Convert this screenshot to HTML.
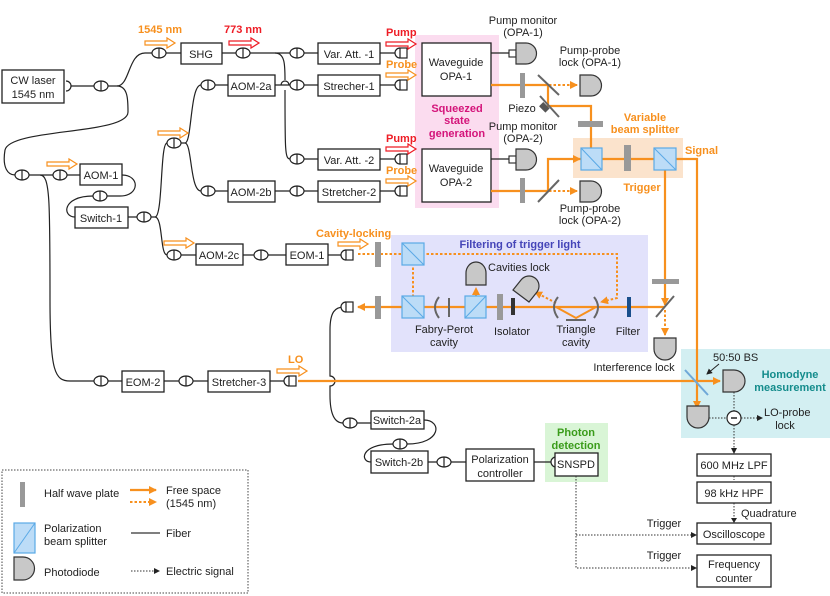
<!DOCTYPE html>
<html><head><meta charset="utf-8"><style>
html,body{margin:0;padding:0;background:#fff}
svg{display:block;font-family:"Liberation Sans",sans-serif}
text{font-size:11px;fill:#222}
.c{text-anchor:middle}
.box{fill:#fff;stroke:#222;stroke-width:1.3}
.fb{fill:none;stroke:#222;stroke-width:1.2}
.or{fill:none;stroke:#f7901e;stroke-width:2.2}
.od{fill:none;stroke:#f7901e;stroke-width:2;stroke-dasharray:2.5 2}
.el{fill:none;stroke:#333;stroke-width:1;stroke-dasharray:1.5 1.5}
.pd{fill:#c8c8c8;stroke:#333;stroke-width:1.2}
.pbs{fill:#bcdcf7;stroke:#5aa9e6;stroke-width:1.2}
.hwp{fill:#999}
.ot{fill:#f7901e;font-weight:bold}
.rt{fill:#ee1c25;font-weight:bold}
</style></head><body>
<svg width="830" height="596" viewBox="0 0 830 596">
<defs>
<g id="fc"><ellipse cx="0" cy="0" rx="7" ry="5" fill="#fff" stroke="#222" stroke-width="1.2"/><line x1="0" y1="-5" x2="0" y2="5" stroke="#222" stroke-width="1.2"/></g>
<g id="col"><path d="M4,-5 A5,5 0 0 0 4,5" fill="#fff" stroke="#222" stroke-width="1.2"/><rect x="4" y="-5" width="7" height="10" fill="#fff" stroke="#222" stroke-width="1.2"/></g>
<polygon id="ha" points="0,-2 22,-2 22,-5 30,0 22,5 22,2 0,2" fill="#fff" stroke="#f7901e" stroke-width="1.2"/>
<polygon id="hr" points="0,-2 22,-2 22,-5 30,0 22,5 22,2 0,2" fill="#fff" stroke="#ee1c25" stroke-width="1.2"/>
<marker id="ao" markerWidth="8" markerHeight="8" refX="7" refY="4" orient="auto" markerUnits="userSpaceOnUse"><path d="M0,0 L8,4 L0,8 z" fill="#f7901e"/></marker>
<marker id="ak" markerWidth="6" markerHeight="6" refX="5" refY="3" orient="auto" markerUnits="userSpaceOnUse"><path d="M0,0 L6,3 L0,6 z" fill="#222"/></marker>
</defs>

<!-- background regions -->
<rect x="415" y="35" width="84" height="173" fill="#fbdcef"/>
<rect x="573" y="138" width="110" height="40" fill="#fbe3cc"/>
<rect x="391" y="235" width="257" height="117" fill="#e2e2fb"/>
<rect x="681" y="349" width="149" height="89" fill="#d3eff2"/>
<rect x="545" y="423" width="63" height="59" fill="#d9f5d6"/>

<!-- fibers -->
<path class="fb" d="M66,86 H94 M108,86 H117 M117,86 C130,86 128,53 145,53 H152 M166,53 H181 M222,53 H236 M250,53 H290 M304,53 H318 M380,53 H398"/>
<path class="fb" d="M117,86 C128,86 128,100 128,112 C128,135 10,128 5,150 C2,168 8,175 15,175 M29,175 H53 M67,175 H80"/>
<path class="fb" d="M40,175 C50,175 50,200 50,300 C50,372 55,381 70,381 H94 M108,381 H122 M164,381 H179 M193,381 H208 M270,381 H288"/>
<path class="fb" d="M122,175 C140,175 140,196 120,196 H107 M93,196 C62,196 62,217 75,217 M128,217 H137 M151,217 H155 M155,217 C163,217 160,143 167,143 M155,217 C163,217 160,255 167,255 M181,255 H196"/>
<path class="fb" d="M181,143 H185 M185,143 C192,143 190,85 201,85 M215,85 H228 M185,143 C192,143 190,191 201,191 M215,191 H228"/>
<path class="fb" d="M275,85 H290 M304,85 H318 M275,191 H290 M304,191 H318 M304,159 H318 M380,85 H398 M380,159 H398 M380,191 H398"/>
<path class="fb" d="M275,53 C285,53 285,65 285,80 M285,90 C285,150 285,159 290,159 M281,85 A4,4 0 0 1 289,85"/>
<path class="fb" d="M243,255 H254 M268,255 H286 M328,255 H344"/>
<path class="fb" d="M344,307 C335,307 330,312 330,330 V376 A4,4 0 0 1 330,386 V395 C330,415 335,423 343,423 M357,423 H371"/>
<path class="fb" d="M424,420 C442,420 442,444 407,444 M393,444 C360,444 360,462 371,462 M428,462 H437 M451,462 H466 M534,462 H552"/>
<path class="fb" d="M491,53 H509"/>
<path class="fb" d="M491,159 H509"/>

<!-- connectors -->
<use href="#fc" x="101" y="86"/><use href="#fc" x="159" y="53"/><use href="#fc" x="243" y="53"/>
<use href="#fc" x="297" y="53"/><use href="#fc" x="297" y="85"/><use href="#fc" x="297" y="159"/><use href="#fc" x="297" y="191"/>
<use href="#fc" x="208" y="85"/><use href="#fc" x="208" y="191"/><use href="#fc" x="174" y="143"/>
<use href="#fc" x="22" y="175"/><use href="#fc" x="60" y="175"/><use href="#fc" x="100" y="196"/><use href="#fc" x="144" y="217"/>
<use href="#fc" x="174" y="255"/><use href="#fc" x="261" y="255"/>
<use href="#fc" x="101" y="381"/><use href="#fc" x="186" y="381"/>
<use href="#fc" x="350" y="423"/><use href="#fc" x="400" y="444"/><use href="#fc" x="444" y="462"/>
<use href="#col" x="396" y="53"/><use href="#col" x="396" y="85"/><use href="#col" x="396" y="159"/><use href="#col" x="396" y="191"/>
<use href="#col" x="342" y="255"/><use href="#col" x="342" y="307"/><use href="#col" x="285" y="381"/>
<path d="M556,457 A5,5 0 0 0 556,467" fill="#fff" stroke="#222" stroke-width="1.2"/>
<path d="M66,81 A5,5 0 0 1 66,91" fill="#fff" stroke="#222" stroke-width="1.2"/>
<rect x="509" y="50" width="7" height="7" fill="#fff" stroke="#222" stroke-width="1.1"/>
<rect x="509" y="156" width="7" height="7" fill="#fff" stroke="#222" stroke-width="1.1"/>

<!-- boxes -->
<rect class="box" x="2" y="70" width="62" height="33"/><text class="c" x="33" y="84">CW laser</text><text class="c" x="33" y="98">1545 nm</text>
<rect class="box" x="181" y="43" width="41" height="21"/><text class="c" x="201" y="58">SHG</text>
<rect class="box" x="318" y="43" width="62" height="21"/><text class="c" x="349" y="58">Var. Att. -1</text>
<rect class="box" x="318" y="75" width="62" height="21"/><text class="c" x="349" y="90">Strecher-1</text>
<rect class="box" x="228" y="75" width="47" height="21"/><text class="c" x="251" y="90">AOM-2a</text>
<rect class="box" x="318" y="149" width="62" height="21"/><text class="c" x="349" y="164">Var. Att. -2</text>
<rect class="box" x="318" y="181" width="62" height="21"/><text class="c" x="349" y="196">Stretcher-2</text>
<rect class="box" x="228" y="181" width="47" height="21"/><text class="c" x="251" y="196">AOM-2b</text>
<rect class="box" x="80" y="164" width="42" height="21"/><text class="c" x="101" y="179">AOM-1</text>
<rect class="box" x="75" y="207" width="53" height="21"/><text class="c" x="101" y="222">Switch-1</text>
<rect class="box" x="196" y="244" width="47" height="21"/><text class="c" x="219" y="259">AOM-2c</text>
<rect class="box" x="286" y="244" width="42" height="21"/><text class="c" x="307" y="259">EOM-1</text>
<rect class="box" x="422" y="43" width="69" height="53"/><text class="c" x="456" y="66">Waveguide</text><text class="c" x="456" y="80">OPA-1</text>
<rect class="box" x="422" y="149" width="69" height="53"/><text class="c" x="456" y="172">Waveguide</text><text class="c" x="456" y="186">OPA-2</text>
<rect class="box" x="122" y="371" width="42" height="21"/><text class="c" x="143" y="386">EOM-2</text>
<rect class="box" x="208" y="371" width="62" height="21"/><text class="c" x="239" y="386">Stretcher-3</text>
<rect class="box" x="371" y="411" width="53" height="18"/><text class="c" x="397" y="424">Switch-2a</text>
<rect class="box" x="371" y="451" width="57" height="22"/><text class="c" x="399" y="466">Switch-2b</text>
<rect class="box" x="466" y="449" width="68" height="32"/><text class="c" x="500" y="463">Polarization</text><text class="c" x="500" y="477">controller</text>
<rect class="box" x="555" y="453" width="43" height="23"/><text class="c" x="576" y="468">SNSPD</text>
<rect class="box" x="697" y="454" width="74" height="22"/><text class="c" x="734" y="469">600 MHz LPF</text>
<rect class="box" x="697" y="482" width="74" height="21"/><text class="c" x="734" y="497">98 kHz HPF</text>
<rect class="box" x="697" y="523" width="74" height="21"/><text class="c" x="734" y="538">Oscilloscope</text>
<rect class="box" x="697" y="555" width="74" height="32"/><text class="c" x="734" y="568">Frequency</text><text class="c" x="734" y="582">counter</text>

<!-- orange/red labels and arrows -->
<text class="ot" x="138" y="33">1545 nm</text><use href="#ha" x="145" y="43"/>
<text class="rt" x="224" y="33">773 nm</text><use href="#hr" x="229" y="43"/>
<text class="rt" x="386" y="36">Pump</text><use href="#hr" x="386" y="44"/>
<text class="ot" x="386" y="68">Probe</text><use href="#ha" x="386" y="75"/>
<text class="rt" x="386" y="142">Pump</text><use href="#hr" x="386" y="149"/>
<text class="ot" x="386" y="174">Probe</text><use href="#ha" x="386" y="181"/>
<use href="#ha" x="47" y="164"/><use href="#ha" x="158" y="133"/><use href="#ha" x="164" y="243"/>
<text class="ot" x="316" y="237">Cavity-locking</text><use href="#ha" x="338" y="244"/>
<text class="ot" x="288" y="363">LO</text><use href="#ha" x="277" y="371"/>

<text class="c" x="457" y="112" style="fill:#d4147a;font-weight:bold">Squeezed</text>
<text class="c" x="457" y="124" style="fill:#d4147a;font-weight:bold">state</text>
<text class="c" x="457" y="137" style="fill:#d4147a;font-weight:bold">generation</text>
<text class="c" x="645" y="121" style="fill:#f7901e;font-weight:bold">Variable</text>
<text class="c" x="645" y="133" style="fill:#f7901e;font-weight:bold">beam splitter</text>
<text x="685" y="154" class="ot">Signal</text>
<text class="c ot" x="642" y="191">Trigger</text>
<text class="c" x="520" y="248" style="fill:#4545b8;font-weight:bold">Filtering of trigger light</text>
<text class="c" x="790" y="378" style="fill:#148c8c;font-weight:bold">Homodyne</text>
<text class="c" x="790" y="391" style="fill:#148c8c;font-weight:bold">measurement</text>
<text class="c" x="576" y="436" style="fill:#3a9c1a;font-weight:bold">Photon</text>
<text class="c" x="576" y="449" style="fill:#3a9c1a;font-weight:bold">detection</text>

<!-- free-space optics top -->
<path class="or" d="M491,85 H548 V106 H591 V157" marker-end="url(#ao)"/>
<path class="or" d="M491,191 H548 V159 H580" marker-end="url(#ao)"/>
<path class="or" d="M580,159 H697 V408" marker-end="url(#ao)"/>
<path class="or" d="M665,159 V305" marker-end="url(#ao)"/>
<path class="od" d="M549,85 H577" marker-end="url(#ao)"/>
<path class="od" d="M549,191 H577" marker-end="url(#ao)"/>
<rect class="hwp" x="520" y="73" width="5" height="25"/>
<rect class="hwp" x="520" y="178" width="5" height="25"/>
<rect class="hwp" x="578" y="121" width="25" height="6"/>
<rect class="hwp" x="624" y="145" width="7" height="26"/>
<rect class="hwp" x="652" y="279" width="27" height="5"/>
<line x1="538" y1="75" x2="559" y2="95" stroke="#666" stroke-width="2"/>
<line x1="540" y1="96" x2="559" y2="117" stroke="#666" stroke-width="2"/>
<rect x="541" y="103" width="6" height="9" fill="#555" transform="rotate(-45 544 107)"/>
<line x1="538" y1="202" x2="559" y2="180" stroke="#666" stroke-width="2"/>
<rect class="pbs" x="581" y="148" width="21" height="22"/><line x1="581" y1="148" x2="602" y2="170" stroke="#5aa9e6"/>
<rect class="pbs" x="654" y="148" width="22" height="22"/><line x1="654" y1="148" x2="676" y2="170" stroke="#5aa9e6"/>
<text x="522" y="112" class="c">Piezo</text>
<text class="c" x="523" y="24">Pump monitor</text><text class="c" x="523" y="36">(OPA-1)</text>
<text class="c" x="590" y="54">Pump-probe</text><text class="c" x="590" y="66">lock (OPA-1)</text>
<text class="c" x="523" y="130">Pump monitor</text><text class="c" x="523" y="142">(OPA-2)</text>
<text class="c" x="590" y="212">Pump-probe</text><text class="c" x="590" y="224">lock (OPA-2)</text>
<path class="pd" d="M516,43 H526 A10.5,10.5 0 0 1 526,64 H516 Z"/>
<path class="pd" d="M516,149 H526 A10.5,10.5 0 0 1 526,170 H516 Z"/>
<path class="pd" d="M580,75 H591 A10.5,10.5 0 0 1 591,96 H580 Z"/>
<path class="pd" d="M580,181 H591 A10.5,10.5 0 0 1 591,202 H580 Z"/>

<!-- filtering -->
<path class="or" d="M665,307 H358" marker-end="url(#ao)"/>
<path class="od" d="M358,254 H411" marker-end="url(#ao)"/>
<path class="od" d="M413,254 V305" marker-end="url(#ao)"/>
<path class="od" d="M413,254 H617 V298 L601,302" marker-end="url(#ao)"/>
<path class="od" d="M476,306 V288" marker-end="url(#ao)"/>
<path class="od" d="M556,303 L535,292" marker-end="url(#ao)"/>
<path class="od" d="M665,310 V335" marker-end="url(#ao)"/>
<rect class="hwp" x="375" y="242" width="6" height="25"/>
<rect class="hwp" x="375" y="296" width="6" height="23"/>
<rect class="pbs" x="402" y="243" width="22" height="22"/><line x1="402" y1="243" x2="424" y2="265" stroke="#5aa9e6"/>
<rect class="pbs" x="402" y="296" width="22" height="22"/><line x1="402" y1="296" x2="424" y2="318" stroke="#5aa9e6"/>
<rect class="pbs" x="465" y="296" width="21" height="22"/><line x1="465" y1="318" x2="486" y2="296" stroke="#5aa9e6"/>
<path d="M439,297 Q431,307 439,318" fill="none" stroke="#666" stroke-width="2"/>
<line x1="449" y1="298" x2="449" y2="317" stroke="#666" stroke-width="2"/>
<rect class="hwp" x="497" y="294" width="6" height="26"/>
<rect x="511" y="298" width="4" height="17" fill="#333"/>
<path d="M558,297 Q550,307 558,318" fill="none" stroke="#666" stroke-width="2"/>
<path d="M594,297 Q602,307 594,318" fill="none" stroke="#666" stroke-width="2"/>
<path d="M556,307 L576,318 L596,307" fill="none" stroke="#f7901e" stroke-width="2"/>
<line x1="566" y1="320" x2="586" y2="320" stroke="#666" stroke-width="2"/>
<rect x="627" y="297" width="4" height="20" fill="#1a4f8c"/>
<line x1="656" y1="317" x2="674" y2="296" stroke="#666" stroke-width="2"/>
<path class="pd" d="M466,285 V273 A10,11 0 0 1 486,273 V285 Z"/>
<path class="pd" d="M513,290 L521,280 A10,10 0 0 1 537,292 L529,302 Z"/>
<path class="pd" d="M654,338 H676 V349 A11,11 0 0 1 654,349 Z"/>
<text x="488" y="271">Cavities lock</text>
<text class="c" x="444" y="333">Fabry-Perot</text><text class="c" x="444" y="346">cavity</text>
<text class="c" x="512" y="335">Isolator</text>
<text class="c" x="576" y="333">Triangle</text><text class="c" x="576" y="346">cavity</text>
<text class="c" x="628" y="335">Filter</text>
<text class="c" x="634" y="371">Interference lock</text>

<!-- homodyne -->
<path class="or" d="M298,381 H720" marker-end="url(#ao)"/>
<line x1="685" y1="370" x2="708" y2="395" stroke="#6fa8d8" stroke-width="2"/>
<text x="713" y="361">50:50 BS</text>
<path d="M719,364 L707,374" stroke="#222" stroke-width="1" marker-end="url(#ak)"/>
<path class="pd" d="M723,370 H734 A11,11 0 0 1 734,392 H723 Z"/>
<path class="pd" d="M687,406 H709 V417 A11,11 0 0 1 687,417 Z"/>
<path class="el" d="M734,392 V411 M709,418 H727 M741,418 H757" />
<path d="M757,415 L763,418 L757,421 z" fill="#222"/>
<circle cx="734" cy="418" r="7" fill="#fff" stroke="#222" stroke-width="1.2"/>
<line x1="731" y1="418" x2="737" y2="418" stroke="#222" stroke-width="1.5"/>
<text x="764" y="416">LO-probe</text><text class="c" x="785" y="429">lock</text>
<path class="el" d="M734,425 V448 M734,476 V480 M734,503 V518"/>
<path d="M731,448 L734,454 L737,448 z" fill="#222"/><path d="M731,518 L734,523 L737,518 z" fill="#222"/>
<text x="741" y="517">Quadrature</text>
<path class="el" d="M576,476 V568 H691 M576,535 H691"/>
<path d="M691,532 L697,535 L691,538 z" fill="#222"/><path d="M691,565 L697,568 L691,571 z" fill="#222"/>
<text class="c" x="664" y="527">Trigger</text><text class="c" x="664" y="559">Trigger</text>

<!-- legend -->
<rect x="2" y="470" width="246" height="123" fill="none" stroke="#444" stroke-dasharray="1.5 1.5"/>
<rect class="hwp" x="20" y="482" width="5" height="25"/>
<text x="44" y="497">Half wave plate</text>
<path class="or" d="M130,490 H156" marker-end="url(#ao)"/>
<path class="od" d="M130,502 H156" marker-end="url(#ao)"/>
<text x="166" y="494">Free space</text><text x="166" y="507">(1545 nm)</text>
<rect class="pbs" x="14" y="523" width="21" height="30"/><line x1="14" y1="553" x2="35" y2="523" stroke="#5aa9e6"/>
<text x="44" y="532">Polarization</text><text x="44" y="545">beam splitter</text>
<line x1="131" y1="533" x2="160" y2="533" stroke="#333" stroke-width="1.3"/><text x="166" y="537">Fiber</text>
<path class="pd" d="M14,557 H23 A11.5,11.5 0 0 1 23,580 H14 Z"/>
<text x="44" y="576">Photodiode</text>
<path class="el" d="M131,571 H154"/><path d="M154,568 L160,571 L154,574 z" fill="#222"/>
<text x="166" y="575">Electric signal</text>
</svg>
</body></html>
